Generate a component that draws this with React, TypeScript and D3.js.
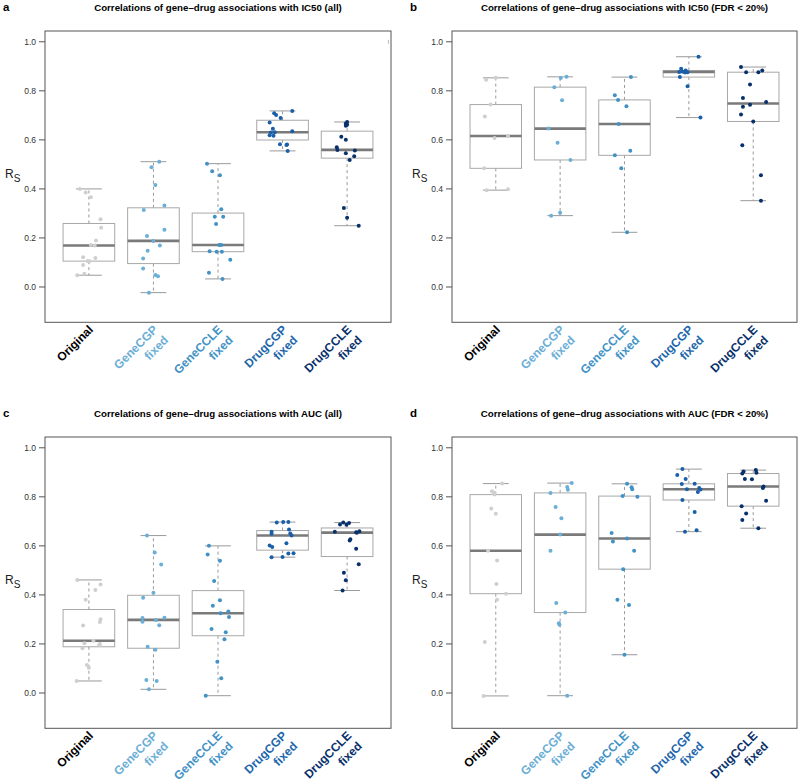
import React from "react";
import * as d3 from "d3";

// ---------- data ----------
const groupLabels: string[][] = [
  ["Original"],
  ["GeneCGP", "fixed"],
  ["GeneCCLE", "fixed"],
  ["DrugCGP", "fixed"],
  ["DrugCCLE", "fixed"],
];
const labelColors = ["#000000", "#6BAED6", "#4292C6", "#2166AC", "#08306B"];
const pointColors = ["#CFCFCF", "#6BAED6", "#4292C6", "#1B5FA8", "#08306B"];

const panelLetters = ["a", "b", "c", "d"];
const panelTitles = [
  "Correlations of gene\u2013drug associations with IC50 (all)",
  "Correlations of gene\u2013drug associations with IC50 (FDR < 20%)",
  "Correlations of gene\u2013drug associations with AUC (all)",
  "Correlations of gene\u2013drug associations with AUC (FDR < 20%)",
];
const yTicks = [0, 0.2, 0.4, 0.6, 0.8, 1.0];
const yDomain = [-0.1, 1.0];

// Panel a: IC50 (all)
const ic50AllValues = [
  [0.400, 0.385, 0.366, 0.276, 0.242, 0.190, 0.171, 0.169, 0.121, 0.118, 0.106, 0.105, 0.090, 0.054, 0.048],
  [0.511, 0.488, 0.416, 0.332, 0.314, 0.233, 0.208, 0.188, 0.169, 0.148, 0.116, 0.075, 0.049, 0.044, -0.023],
  [0.503, 0.472, 0.456, 0.317, 0.286, 0.286, 0.257, 0.171, 0.171, 0.146, 0.144, 0.144, 0.111, 0.058, 0.033],
  [0.718, 0.709, 0.701, 0.689, 0.671, 0.645, 0.635, 0.631, 0.630, 0.619, 0.617, 0.582, 0.581, 0.579, 0.555],
  [0.673, 0.667, 0.662, 0.658, 0.613, 0.600, 0.570, 0.559, 0.557, 0.545, 0.533, 0.518, 0.322, 0.282, 0.250],
];
const ic50AllJitter = [
  [-0.14, -0.05, 0.03, 0.18, 0.19, 0.11, 0.03, 0.09, -0.09, 0.10, -0.02, 0.01, -0.09, -0.07, -0.18],
  [0.09, -0.03, 0.03, 0.17, -0.15, 0.17, -0.10, 0.00, 0.10, -0.09, -0.16, -0.16, 0.03, 0.07, -0.07],
  [-0.17, -0.09, 0.03, 0.05, -0.05, 0.08, -0.03, 0.05, 0.02, -0.13, -0.02, 0.06, 0.19, -0.14, 0.07],
  [0.15, -0.13, -0.10, -0.03, -0.20, -0.15, 0.15, -0.12, -0.18, -0.20, -0.14, -0.04, 0.07, 0.06, 0.08],
  [0.00, -0.02, 0.00, -0.02, -0.09, -0.02, -0.16, -0.15, 0.12, -0.02, 0.11, 0.04, -0.05, 0.00, 0.18],
];

// Panel b: IC50 (FDR < 20%)
const ic50FdrValues = [
  [0.853, 0.845, 0.744, 0.695, 0.616, 0.608, 0.484, 0.399, 0.395],
  [0.857, 0.852, 0.815, 0.762, 0.646, 0.588, 0.518, 0.303, 0.291],
  [0.856, 0.782, 0.763, 0.737, 0.665, 0.556, 0.537, 0.484, 0.223],
  [0.939, 0.890, 0.883, 0.879, 0.877, 0.876, 0.875, 0.856, 0.819, 0.691],
  [0.897, 0.883, 0.876, 0.876, 0.826, 0.771, 0.754, 0.743, 0.735, 0.703, 0.675, 0.578, 0.456, 0.352],
];
const ic50FdrJitter = [
  [0.00, -0.15, -0.08, -0.17, 0.19, -0.02, -0.18, 0.19, -0.14],
  [0.10, 0.01, -0.09, 0.03, -0.18, -0.04, 0.16, 0.00, -0.14],
  [0.10, -0.15, -0.10, 0.03, -0.09, 0.09, -0.15, -0.05, 0.04],
  [0.15, -0.12, -0.05, -0.10, -0.15, -0.02, -0.06, -0.14, -0.02, 0.18],
  [-0.19, 0.14, -0.11, 0.08, -0.05, -0.16, 0.20, -0.05, -0.16, -0.19, 0.00, -0.17, 0.12, 0.12],
];

// Panel c: AUC (all)
const aucAllValues = [
  [0.461, 0.442, 0.420, 0.380, 0.301, 0.290, 0.275, 0.213, 0.203, 0.200, 0.195, 0.182, 0.114, 0.103, 0.049],
  [0.642, 0.573, 0.524, 0.409, 0.388, 0.307, 0.306, 0.298, 0.291, 0.276, 0.189, 0.176, 0.053, 0.049, 0.015],
  [0.600, 0.565, 0.539, 0.457, 0.378, 0.356, 0.332, 0.325, 0.310, 0.261, 0.248, 0.219, 0.127, 0.060, -0.011],
  [0.697, 0.697, 0.695, 0.667, 0.658, 0.650, 0.649, 0.642, 0.611, 0.601, 0.595, 0.570, 0.569, 0.555, 0.554],
  [0.695, 0.693, 0.687, 0.686, 0.660, 0.658, 0.656, 0.654, 0.627, 0.622, 0.588, 0.525, 0.490, 0.460, 0.418],
];
const aucAllJitter = [
  [-0.18, 0.18, 0.10, -0.05, 0.18, 0.17, -0.09, 0.07, -0.07, 0.17, 0.16, -0.10, -0.03, 0.00, -0.19],
  [-0.10, 0.02, 0.12, 0.00, -0.16, 0.17, -0.17, 0.04, -0.17, 0.09, -0.09, 0.03, -0.11, 0.05, -0.07],
  [-0.14, -0.16, 0.03, -0.06, 0.03, -0.08, 0.16, 0.04, 0.17, -0.10, 0.12, 0.10, -0.01, 0.05, -0.19],
  [0.01, 0.09, -0.09, 0.10, -0.17, 0.12, -0.17, 0.14, 0.06, -0.20, -0.16, 0.17, 0.09, 0.00, -0.17],
  [-0.06, 0.03, -0.11, -0.01, 0.19, -0.19, 0.14, 0.15, 0.05, 0.04, 0.14, 0.18, -0.05, -0.02, -0.07],
];

// Panel d: AUC (FDR < 20%)
const aucFdrValues = [
  [0.854, 0.823, 0.818, 0.809, 0.752, 0.731, 0.580, 0.540, 0.444, 0.405, 0.380, 0.208, -0.012],
  [0.856, 0.840, 0.829, 0.816, 0.759, 0.713, 0.646, 0.580, 0.367, 0.328, 0.284, 0.278, -0.011],
  [0.853, 0.839, 0.831, 0.803, 0.800, 0.652, 0.630, 0.618, 0.580, 0.505, 0.380, 0.359, 0.156],
  [0.913, 0.889, 0.873, 0.853, 0.852, 0.836, 0.831, 0.830, 0.820, 0.787, 0.738, 0.664, 0.658],
  [0.909, 0.903, 0.898, 0.895, 0.873, 0.872, 0.842, 0.836, 0.784, 0.762, 0.732, 0.705, 0.672],
];
const aucFdrJitter = [
  [0.10, -0.06, -0.03, -0.02, -0.07, 0.00, -0.12, 0.02, 0.01, 0.16, 0.02, -0.17, -0.19],
  [0.18, 0.11, 0.12, -0.15, -0.07, 0.02, 0.00, -0.15, -0.06, 0.08, -0.02, -0.01, 0.11],
  [0.04, 0.11, 0.12, -0.03, 0.20, -0.20, 0.04, -0.18, 0.15, -0.02, -0.11, 0.07, 0.00],
  [-0.10, -0.18, -0.05, 0.09, -0.11, 0.16, -0.03, 0.18, 0.14, -0.10, 0.09, 0.12, -0.06],
  [0.04, -0.15, 0.05, -0.17, -0.13, -0.02, 0.16, 0.15, 0.20, -0.18, -0.11, -0.17, 0.08],
];

const panelValues = [ic50AllValues, ic50FdrValues, aucAllValues, aucFdrValues];
const panelJitter = [ic50AllJitter, ic50FdrJitter, aucAllJitter, aucFdrJitter];

// ---------- helpers ----------
function fivenum(arr: number[]): number[] {
  const x = [...arr].sort((a, b) => a - b);
  const n = x.length;
  const n4 = Math.floor((n + 3) / 2) / 2;
  const d = [1, n4, (n + 1) / 2, n + 1 - n4, n];
  return d.map((di) => 0.5 * (x[Math.floor(di) - 1] + x[Math.ceil(di) - 1]));
}

const FONT = "'Liberation Sans', Arial, Helvetica, sans-serif";
const W = 800;
const H = 783;

const panelLayout = [
  { left: 45, right: 391, top: 0 },
  { left: 452, right: 797, top: 0 },
  { left: 45, right: 391, top: 406 },
  { left: 452, right: 797, top: 406 },
];

function Panel({ idx }: { idx: number }) {
  const { left, right, top } = panelLayout[idx];
  const values = panelValues[idx];
  const jitter = panelJitter[idx];
  const ext = (yDomain[1] - yDomain[0]) * 0.04;
  const plotTop = top + 31;
  const plotBottom = top + 322.3;
  const y = d3
    .scaleLinear()
    .domain([yDomain[0] - ext, yDomain[1] + ext])
    .range([plotBottom, plotTop]);
  const x = d3.scaleLinear().domain([0.32, 5.68]).range([left, right]);
  const boxHalf = 0.4;
  const capHalf = 0.2;

  return (
    <g>
      <text x={left - 42} y={top + 11} fontFamily={FONT} fontWeight="bold" fontSize={11.5}>
        {panelLetters[idx]}
      </text>
      <text
        x={(left + right) / 2}
        y={top + 11}
        fontFamily={FONT}
        fontWeight="bold"
        fontSize={9.7}
        textAnchor="middle"
      >
        {panelTitles[idx]}
      </text>
      {/* y axis */}
      {yTicks.map((t) => (
        <g key={t}>
          <line x1={left - 6} x2={left} y1={y(t)} y2={y(t)} stroke="#555" strokeWidth={1} />
          <text
            x={left - 9}
            y={y(t) + 3}
            fontFamily={FONT}
            fontSize={8.5}
            textAnchor="end"
            fill="#333"
          >
            {d3.format(".1f")(t)}
          </text>
        </g>
      ))}
      <text x={left - 40} y={(plotTop + plotBottom) / 2 + 1} fontFamily={FONT} fontSize={12} fill="#222">
        R
        <tspan fontSize={10} dy={4}>
          S
        </tspan>
      </text>
      {/* boxes */}
      {values.map((vals, gi) => {
        const [mn, lh, med, uh, mx] = fivenum(vals);
        const c = gi + 1;
        return (
          <g key={"box" + gi}>
            <line x1={x(c)} x2={x(c)} y1={y(uh)} y2={y(mx)} stroke="#9a9a9a" strokeDasharray="3,3" />
            <line x1={x(c)} x2={x(c)} y1={y(lh)} y2={y(mn)} stroke="#9a9a9a" strokeDasharray="3,3" />
            <line x1={x(c - capHalf)} x2={x(c + capHalf)} y1={y(mx)} y2={y(mx)} stroke="#9a9a9a" />
            <line x1={x(c - capHalf)} x2={x(c + capHalf)} y1={y(mn)} y2={y(mn)} stroke="#9a9a9a" />
            <rect
              x={x(c - boxHalf)}
              width={x(c + boxHalf) - x(c - boxHalf)}
              y={y(uh)}
              height={y(lh) - y(uh)}
              fill="none"
              stroke="#a8a8a8"
              strokeWidth={1}
            />
            <line
              x1={x(c - boxHalf)}
              x2={x(c + boxHalf)}
              y1={y(med)}
              y2={y(med)}
              stroke="#7a7a7a"
              strokeWidth={2.6}
            />
          </g>
        );
      })}
      {/* points */}
      {values.map((vals, gi) =>
        vals.map((v, pi) => (
          <circle
            key={"p" + gi + "-" + pi}
            cx={x(gi + 1 + jitter[gi][pi])}
            cy={y(v)}
            r={2}
            fill={pointColors[gi]}
          />
        ))
      )}
      {idx === 0 && (
        <line x1={x(5.64)} x2={x(5.64)} y1={y(1.0) - 2} y2={y(1.0) + 2} stroke="#bbb" strokeWidth={1} />
      )}
      {/* frame */}
      <rect
        x={left}
        y={plotTop}
        width={right - left}
        height={plotBottom - plotTop}
        fill="none"
        stroke="#555"
        strokeWidth={1}
      />
      {/* x labels */}
      {groupLabels.map((lines, gi) => {
        const cx = x(gi + 1) + 5;
        const cy = plotBottom + 8;
        return (
          <g key={"lab" + gi}>
            {lines.map((ln, li) => (
              <text
                key={li}
                transform={`translate(${cx + li * 10.6},${cy + li * 10.6}) rotate(-45)`}
                textAnchor="end"
                fontFamily={FONT}
                fontWeight="bold"
                fontSize={12}
                fill={labelColors[gi]}
              >
                {ln}
              </text>
            ))}
          </g>
        );
      })}
    </g>
  );
}

export default function App() {
  return (
    <svg
      width={W}
      height={H}
      viewBox={`0 0 ${W} ${H}`}
      style={{ position: "absolute", left: 0, top: 0, display: "block", background: "#fff" }}
    >
      <rect x={0} y={0} width={W} height={H} fill="#fff" />
      {[0, 1, 2, 3].map((i) => (
        <Panel key={i} idx={i} />
      ))}
    </svg>
  );
}
